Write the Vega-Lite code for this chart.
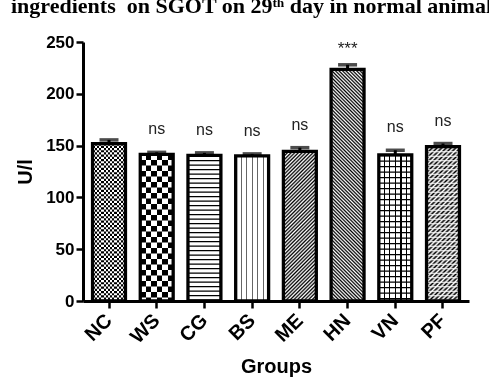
{
  "$schema": "https://vega.github.io/schema/vega-lite/v6.json",
  "width": 386,
  "height": 259,
  "autosize": "none",
  "padding": {"left": 83, "top": 42, "right": 20, "bottom": 81},
  "background": "#ffffff",
  "title": {
    "text": "ingredients\u00a0 on SGOT on 29ᵗʰ day in normal animals",
    "anchor": "start",
    "frame": "group",
    "dx": -72,
    "offset": -1.5,
    "baseline": "alphabetic",
    "font": "Liberation Serif",
    "fontSize": 22,
    "fontWeight": "bold",
    "color": "#000"
  },
  "data": {
    "values": [
      {"group": "NC", "mean": 152, "upper": 155.5, "sig": ""},
      {"group": "WS", "mean": 141.5, "upper": 143.5, "sig": "ns"},
      {"group": "CG", "mean": 140.5, "upper": 143, "sig": "ns"},
      {"group": "BS", "mean": 140, "upper": 142, "sig": "ns"},
      {"group": "ME", "mean": 144.5, "upper": 148, "sig": "ns"},
      {"group": "HN", "mean": 223.5, "upper": 228, "sig": "***"},
      {"group": "VN", "mean": 141, "upper": 145.5, "sig": "ns"},
      {"group": "PF", "mean": 149, "upper": 152, "sig": "ns"}
    ]
  },
  "encoding": {
    "x": {
      "field": "group",
      "type": "nominal",
      "title": "Groups",
      "scale": {"domain": ["NC", "WS", "CG", "BS", "ME", "HN", "VN", "PF"], "paddingInner": 0.31, "paddingOuter": 0.2},
      "axis": {"labelAngle": -45, "labelAlign": "right", "labelBaseline": "middle", "labelPadding": 9, "labelFontSize": 20, "titleFontSize": 20, "titlePadding": 10}
    }
  },
  "layer": [
    {
      "transform": [{"filter": "datum.group == 'NC'"}],
      "mark": {"type": "bar", "fill": {"gradient": "linear", "x1": 0, "y1": 0, "x2": 1, "y2": 0, "stops": [
        {"offset": 0, "color": "#000"}, {"offset": 0.0667, "color": "#000"}, {"offset": 0.0667, "color": "#fff"}, {"offset": 0.1333, "color": "#fff"},
        {"offset": 0.1333, "color": "#000"}, {"offset": 0.2, "color": "#000"}, {"offset": 0.2, "color": "#fff"}, {"offset": 0.2667, "color": "#fff"},
        {"offset": 0.2667, "color": "#000"}, {"offset": 0.3333, "color": "#000"}, {"offset": 0.3333, "color": "#fff"}, {"offset": 0.4, "color": "#fff"},
        {"offset": 0.4, "color": "#000"}, {"offset": 0.4667, "color": "#000"}, {"offset": 0.4667, "color": "#fff"}, {"offset": 0.5333, "color": "#fff"},
        {"offset": 0.5333, "color": "#000"}, {"offset": 0.6, "color": "#000"}, {"offset": 0.6, "color": "#fff"}, {"offset": 0.6667, "color": "#fff"},
        {"offset": 0.6667, "color": "#000"}, {"offset": 0.7333, "color": "#000"}, {"offset": 0.7333, "color": "#fff"}, {"offset": 0.8, "color": "#fff"},
        {"offset": 0.8, "color": "#000"}, {"offset": 0.8667, "color": "#000"}, {"offset": 0.8667, "color": "#fff"}, {"offset": 0.9333, "color": "#fff"},
        {"offset": 0.9333, "color": "#000"}, {"offset": 1, "color": "#000"}]}},
      "encoding": {"y": {"field": "mean", "type": "quantitative", "title": "U/l", "scale": {"domain": [0, 250], "nice": false}, "axis": {"values": [0, 50, 100, 150, 200, 250], "labelFontSize": 17, "labelPadding": 2, "titleFontSize": 20, "titlePadding": 10}}}
    },
    {
      "transform": [{"filter": "datum.group == 'NC'"}],
      "mark": {"type": "rule", "color": "#fff", "strokeWidth": 33, "strokeDash": [2.2, 2.2], "blend": "difference"},
      "encoding": {"y": {"field": "mean", "type": "quantitative", "title": "U/l"}, "y2": {"datum": 0}}
    },
    {
      "transform": [{"filter": "datum.group == 'WS'"}],
      "mark": {"type": "bar", "fill": {"gradient": "linear", "x1": 0, "y1": 0, "x2": 1, "y2": 0, "stops": [
        {"offset": 0, "color": "#000"}, {"offset": 0.1667, "color": "#000"}, {"offset": 0.1667, "color": "#fff"}, {"offset": 0.3333, "color": "#fff"},
        {"offset": 0.3333, "color": "#000"}, {"offset": 0.5, "color": "#000"}, {"offset": 0.5, "color": "#fff"}, {"offset": 0.6667, "color": "#fff"},
        {"offset": 0.6667, "color": "#000"}, {"offset": 0.8333, "color": "#000"}, {"offset": 0.8333, "color": "#fff"}, {"offset": 1, "color": "#fff"}]}},
      "encoding": {"y": {"field": "mean", "type": "quantitative", "title": "U/l"}}
    },
    {
      "transform": [{"filter": "datum.group == 'WS'"}],
      "mark": {"type": "rule", "color": "#fff", "strokeWidth": 33, "strokeDash": [5.5, 5.5], "blend": "difference"},
      "encoding": {"y": {"field": "mean", "type": "quantitative", "title": "U/l"}, "y2": {"datum": 0}}
    },
    {
      "transform": [{"filter": "datum.group == 'CG'"}],
      "mark": {"type": "rule", "color": "#000", "strokeWidth": 33, "strokeDash": [1.4, 3.1]},
      "encoding": {"y": {"field": "mean", "type": "quantitative", "title": "U/l"}, "y2": {"datum": 0}}
    },
    {
      "transform": [{"filter": "datum.group == 'BS'"}],
      "mark": {"type": "bar", "fill": {"gradient": "linear", "x1": 0, "y1": 0, "x2": 1, "y2": 0, "stops": [
        {"offset": 0, "color": "#fff"}, {"offset": 0.149, "color": "#fff"}, {"offset": 0.149, "color": "#666"}, {"offset": 0.185, "color": "#666"}, {"offset": 0.185, "color": "#fff"},
        {"offset": 0.316, "color": "#fff"}, {"offset": 0.316, "color": "#666"}, {"offset": 0.352, "color": "#666"}, {"offset": 0.352, "color": "#fff"},
        {"offset": 0.484, "color": "#fff"}, {"offset": 0.484, "color": "#666"}, {"offset": 0.52, "color": "#666"}, {"offset": 0.52, "color": "#fff"},
        {"offset": 0.651, "color": "#fff"}, {"offset": 0.651, "color": "#666"}, {"offset": 0.687, "color": "#666"}, {"offset": 0.687, "color": "#fff"},
        {"offset": 0.818, "color": "#fff"}, {"offset": 0.818, "color": "#666"}, {"offset": 0.854, "color": "#666"}, {"offset": 0.854, "color": "#fff"},
        {"offset": 1, "color": "#fff"}]}},
      "encoding": {"y": {"field": "mean", "type": "quantitative", "title": "U/l"}}
    },
    {
      "transform": [{"filter": "datum.group == 'ME'"}],
      "mark": {"type": "bar", "fill": {"gradient": "linear", "x1": 0, "y1": 0, "x2": 0.2559, "y2": 1.1636, "stops": [
        {"offset": 0, "color": "#fff"}, {"offset": 0.01, "color": "#000"}, {"offset": 0.02, "color": "#fff"}, {"offset": 0.03, "color": "#000"}, {"offset": 0.04, "color": "#fff"},
        {"offset": 0.05, "color": "#000"}, {"offset": 0.06, "color": "#fff"}, {"offset": 0.07, "color": "#000"}, {"offset": 0.08, "color": "#fff"}, {"offset": 0.09, "color": "#000"},
        {"offset": 0.1, "color": "#fff"}, {"offset": 0.11, "color": "#000"}, {"offset": 0.12, "color": "#fff"}, {"offset": 0.13, "color": "#000"}, {"offset": 0.14, "color": "#fff"},
        {"offset": 0.15, "color": "#000"}, {"offset": 0.16, "color": "#fff"}, {"offset": 0.17, "color": "#000"}, {"offset": 0.18, "color": "#fff"}, {"offset": 0.19, "color": "#000"},
        {"offset": 0.2, "color": "#fff"}, {"offset": 0.21, "color": "#000"}, {"offset": 0.22, "color": "#fff"}, {"offset": 0.23, "color": "#000"}, {"offset": 0.24, "color": "#fff"},
        {"offset": 0.25, "color": "#000"}, {"offset": 0.26, "color": "#fff"}, {"offset": 0.27, "color": "#000"}, {"offset": 0.28, "color": "#fff"}, {"offset": 0.29, "color": "#000"},
        {"offset": 0.3, "color": "#fff"}, {"offset": 0.31, "color": "#000"}, {"offset": 0.32, "color": "#fff"}, {"offset": 0.33, "color": "#000"}, {"offset": 0.34, "color": "#fff"},
        {"offset": 0.35, "color": "#000"}, {"offset": 0.36, "color": "#fff"}, {"offset": 0.37, "color": "#000"}, {"offset": 0.38, "color": "#fff"}, {"offset": 0.39, "color": "#000"},
        {"offset": 0.4, "color": "#fff"}, {"offset": 0.41, "color": "#000"}, {"offset": 0.42, "color": "#fff"}, {"offset": 0.43, "color": "#000"}, {"offset": 0.44, "color": "#fff"},
        {"offset": 0.45, "color": "#000"}, {"offset": 0.46, "color": "#fff"}, {"offset": 0.47, "color": "#000"}, {"offset": 0.48, "color": "#fff"}, {"offset": 0.49, "color": "#000"},
        {"offset": 0.5, "color": "#fff"}, {"offset": 0.51, "color": "#000"}, {"offset": 0.52, "color": "#fff"}, {"offset": 0.53, "color": "#000"}, {"offset": 0.54, "color": "#fff"},
        {"offset": 0.55, "color": "#000"}, {"offset": 0.56, "color": "#fff"}, {"offset": 0.57, "color": "#000"}, {"offset": 0.58, "color": "#fff"}, {"offset": 0.59, "color": "#000"},
        {"offset": 0.6, "color": "#fff"}, {"offset": 0.61, "color": "#000"}, {"offset": 0.62, "color": "#fff"}, {"offset": 0.63, "color": "#000"}, {"offset": 0.64, "color": "#fff"},
        {"offset": 0.65, "color": "#000"}, {"offset": 0.66, "color": "#fff"}, {"offset": 0.67, "color": "#000"}, {"offset": 0.68, "color": "#fff"}, {"offset": 0.69, "color": "#000"},
        {"offset": 0.7, "color": "#fff"}, {"offset": 0.71, "color": "#000"}, {"offset": 0.72, "color": "#fff"}, {"offset": 0.73, "color": "#000"}, {"offset": 0.74, "color": "#fff"},
        {"offset": 0.75, "color": "#000"}, {"offset": 0.76, "color": "#fff"}, {"offset": 0.77, "color": "#000"}, {"offset": 0.78, "color": "#fff"}, {"offset": 0.79, "color": "#000"},
        {"offset": 0.8, "color": "#fff"}, {"offset": 0.81, "color": "#000"}, {"offset": 0.82, "color": "#fff"}, {"offset": 0.83, "color": "#000"}, {"offset": 0.84, "color": "#fff"},
        {"offset": 0.85, "color": "#000"}, {"offset": 0.86, "color": "#fff"}, {"offset": 0.87, "color": "#000"}, {"offset": 0.88, "color": "#fff"}, {"offset": 0.89, "color": "#000"},
        {"offset": 0.9, "color": "#fff"}, {"offset": 0.91, "color": "#000"}, {"offset": 0.92, "color": "#fff"}, {"offset": 0.93, "color": "#000"}, {"offset": 0.94, "color": "#fff"},
        {"offset": 0.95, "color": "#000"}, {"offset": 0.96, "color": "#fff"}, {"offset": 0.97, "color": "#000"}, {"offset": 0.98, "color": "#fff"}, {"offset": 0.99, "color": "#000"},
        {"offset": 1, "color": "#fff"}]}},
      "encoding": {"y": {"field": "mean", "type": "quantitative", "title": "U/l"}}
    },
    {
      "transform": [{"filter": "datum.group == 'HN'"}],
      "mark": {"type": "bar", "fill": {"gradient": "linear", "x1": 0, "y1": 1, "x2": 0.1592, "y2": -0.1196, "stops": [
        {"offset": 0, "color": "#fff"}, {"offset": 0.0067, "color": "#000"}, {"offset": 0.0133, "color": "#fff"}, {"offset": 0.02, "color": "#000"}, {"offset": 0.0267, "color": "#fff"},
        {"offset": 0.0333, "color": "#000"}, {"offset": 0.04, "color": "#fff"}, {"offset": 0.0467, "color": "#000"}, {"offset": 0.0533, "color": "#fff"}, {"offset": 0.06, "color": "#000"},
        {"offset": 0.0667, "color": "#fff"}, {"offset": 0.0733, "color": "#000"}, {"offset": 0.08, "color": "#fff"}, {"offset": 0.0867, "color": "#000"}, {"offset": 0.0933, "color": "#fff"},
        {"offset": 0.1, "color": "#000"}, {"offset": 0.1067, "color": "#fff"}, {"offset": 0.1133, "color": "#000"}, {"offset": 0.12, "color": "#fff"}, {"offset": 0.1267, "color": "#000"},
        {"offset": 0.1333, "color": "#fff"}, {"offset": 0.14, "color": "#000"}, {"offset": 0.1467, "color": "#fff"}, {"offset": 0.1533, "color": "#000"}, {"offset": 0.16, "color": "#fff"},
        {"offset": 0.1667, "color": "#000"}, {"offset": 0.1733, "color": "#fff"}, {"offset": 0.18, "color": "#000"}, {"offset": 0.1867, "color": "#fff"}, {"offset": 0.1933, "color": "#000"},
        {"offset": 0.2, "color": "#fff"}, {"offset": 0.2067, "color": "#000"}, {"offset": 0.2133, "color": "#fff"}, {"offset": 0.22, "color": "#000"}, {"offset": 0.2267, "color": "#fff"},
        {"offset": 0.2333, "color": "#000"}, {"offset": 0.24, "color": "#fff"}, {"offset": 0.2467, "color": "#000"}, {"offset": 0.2533, "color": "#fff"}, {"offset": 0.26, "color": "#000"},
        {"offset": 0.2667, "color": "#fff"}, {"offset": 0.2733, "color": "#000"}, {"offset": 0.28, "color": "#fff"}, {"offset": 0.2867, "color": "#000"}, {"offset": 0.2933, "color": "#fff"},
        {"offset": 0.3, "color": "#000"}, {"offset": 0.3067, "color": "#fff"}, {"offset": 0.3133, "color": "#000"}, {"offset": 0.32, "color": "#fff"}, {"offset": 0.3267, "color": "#000"},
        {"offset": 0.3333, "color": "#fff"}, {"offset": 0.34, "color": "#000"}, {"offset": 0.3467, "color": "#fff"}, {"offset": 0.3533, "color": "#000"}, {"offset": 0.36, "color": "#fff"},
        {"offset": 0.3667, "color": "#000"}, {"offset": 0.3733, "color": "#fff"}, {"offset": 0.38, "color": "#000"}, {"offset": 0.3867, "color": "#fff"}, {"offset": 0.3933, "color": "#000"},
        {"offset": 0.4, "color": "#fff"}, {"offset": 0.4067, "color": "#000"}, {"offset": 0.4133, "color": "#fff"}, {"offset": 0.42, "color": "#000"}, {"offset": 0.4267, "color": "#fff"},
        {"offset": 0.4333, "color": "#000"}, {"offset": 0.44, "color": "#fff"}, {"offset": 0.4467, "color": "#000"}, {"offset": 0.4533, "color": "#fff"}, {"offset": 0.46, "color": "#000"},
        {"offset": 0.4667, "color": "#fff"}, {"offset": 0.4733, "color": "#000"}, {"offset": 0.48, "color": "#fff"}, {"offset": 0.4867, "color": "#000"}, {"offset": 0.4933, "color": "#fff"},
        {"offset": 0.5, "color": "#000"}, {"offset": 0.5067, "color": "#fff"}, {"offset": 0.5133, "color": "#000"}, {"offset": 0.52, "color": "#fff"}, {"offset": 0.5267, "color": "#000"},
        {"offset": 0.5333, "color": "#fff"}, {"offset": 0.54, "color": "#000"}, {"offset": 0.5467, "color": "#fff"}, {"offset": 0.5533, "color": "#000"}, {"offset": 0.56, "color": "#fff"},
        {"offset": 0.5667, "color": "#000"}, {"offset": 0.5733, "color": "#fff"}, {"offset": 0.58, "color": "#000"}, {"offset": 0.5867, "color": "#fff"}, {"offset": 0.5933, "color": "#000"},
        {"offset": 0.6, "color": "#fff"}, {"offset": 0.6067, "color": "#000"}, {"offset": 0.6133, "color": "#fff"}, {"offset": 0.62, "color": "#000"}, {"offset": 0.6267, "color": "#fff"},
        {"offset": 0.6333, "color": "#000"}, {"offset": 0.64, "color": "#fff"}, {"offset": 0.6467, "color": "#000"}, {"offset": 0.6533, "color": "#fff"}, {"offset": 0.66, "color": "#000"},
        {"offset": 0.6667, "color": "#fff"}, {"offset": 0.6733, "color": "#000"}, {"offset": 0.68, "color": "#fff"}, {"offset": 0.6867, "color": "#000"}, {"offset": 0.6933, "color": "#fff"},
        {"offset": 0.7, "color": "#000"}, {"offset": 0.7067, "color": "#fff"}, {"offset": 0.7133, "color": "#000"}, {"offset": 0.72, "color": "#fff"}, {"offset": 0.7267, "color": "#000"},
        {"offset": 0.7333, "color": "#fff"}, {"offset": 0.74, "color": "#000"}, {"offset": 0.7467, "color": "#fff"}, {"offset": 0.7533, "color": "#000"}, {"offset": 0.76, "color": "#fff"},
        {"offset": 0.7667, "color": "#000"}, {"offset": 0.7733, "color": "#fff"}, {"offset": 0.78, "color": "#000"}, {"offset": 0.7867, "color": "#fff"}, {"offset": 0.7933, "color": "#000"},
        {"offset": 0.8, "color": "#fff"}, {"offset": 0.8067, "color": "#000"}, {"offset": 0.8133, "color": "#fff"}, {"offset": 0.82, "color": "#000"}, {"offset": 0.8267, "color": "#fff"},
        {"offset": 0.8333, "color": "#000"}, {"offset": 0.84, "color": "#fff"}, {"offset": 0.8467, "color": "#000"}, {"offset": 0.8533, "color": "#fff"}, {"offset": 0.86, "color": "#000"},
        {"offset": 0.8667, "color": "#fff"}, {"offset": 0.8733, "color": "#000"}, {"offset": 0.88, "color": "#fff"}, {"offset": 0.8867, "color": "#000"}, {"offset": 0.8933, "color": "#fff"},
        {"offset": 0.9, "color": "#000"}, {"offset": 0.9067, "color": "#fff"}, {"offset": 0.9133, "color": "#000"}, {"offset": 0.92, "color": "#fff"}, {"offset": 0.9267, "color": "#000"},
        {"offset": 0.9333, "color": "#fff"}, {"offset": 0.94, "color": "#000"}, {"offset": 0.9467, "color": "#fff"}, {"offset": 0.9533, "color": "#000"}, {"offset": 0.96, "color": "#fff"},
        {"offset": 0.9667, "color": "#000"}, {"offset": 0.9733, "color": "#fff"}, {"offset": 0.98, "color": "#000"}, {"offset": 0.9867, "color": "#fff"}, {"offset": 0.9933, "color": "#000"},
        {"offset": 1, "color": "#fff"}]}},
      "encoding": {"y": {"field": "mean", "type": "quantitative", "title": "U/l"}}
    },
    {
      "transform": [{"filter": "datum.group == 'VN'"}],
      "mark": {"type": "bar", "fill": {"gradient": "linear", "x1": 0, "y1": 0, "x2": 1, "y2": 0, "stops": [
        {"offset": 0, "color": "#fff"}, {"offset": 0.147, "color": "#fff"}, {"offset": 0.147, "color": "#000"}, {"offset": 0.187, "color": "#000"}, {"offset": 0.187, "color": "#fff"},
        {"offset": 0.314, "color": "#fff"}, {"offset": 0.314, "color": "#000"}, {"offset": 0.354, "color": "#000"}, {"offset": 0.354, "color": "#fff"},
        {"offset": 0.482, "color": "#fff"}, {"offset": 0.482, "color": "#000"}, {"offset": 0.522, "color": "#000"}, {"offset": 0.522, "color": "#fff"},
        {"offset": 0.649, "color": "#fff"}, {"offset": 0.649, "color": "#000"}, {"offset": 0.689, "color": "#000"}, {"offset": 0.689, "color": "#fff"},
        {"offset": 0.816, "color": "#fff"}, {"offset": 0.816, "color": "#000"}, {"offset": 0.856, "color": "#000"}, {"offset": 0.856, "color": "#fff"},
        {"offset": 1, "color": "#fff"}]}},
      "encoding": {"y": {"field": "mean", "type": "quantitative", "title": "U/l"}}
    },
    {
      "transform": [{"filter": "datum.group == 'VN'"}],
      "mark": {"type": "rule", "color": "#000", "strokeWidth": 33, "strokeDash": [1.3, 4.2]},
      "encoding": {"y": {"field": "mean", "type": "quantitative", "title": "U/l"}, "y2": {"datum": 0}}
    },
    {
      "transform": [{"filter": "datum.group == 'PF'"}],
      "mark": {"type": "bar", "fill": {"gradient": "linear", "x1": 0, "y1": 0, "x2": 0.2475, "y2": 1.1605, "stops": [
        {"offset": 0, "color": "#fff"}, {"offset": 0.0125, "color": "#000"}, {"offset": 0.025, "color": "#fff"}, {"offset": 0.0375, "color": "#000"}, {"offset": 0.05, "color": "#fff"},
        {"offset": 0.0625, "color": "#000"}, {"offset": 0.075, "color": "#fff"}, {"offset": 0.0875, "color": "#000"}, {"offset": 0.1, "color": "#fff"}, {"offset": 0.1125, "color": "#000"},
        {"offset": 0.125, "color": "#fff"}, {"offset": 0.1375, "color": "#000"}, {"offset": 0.15, "color": "#fff"}, {"offset": 0.1625, "color": "#000"}, {"offset": 0.175, "color": "#fff"},
        {"offset": 0.1875, "color": "#000"}, {"offset": 0.2, "color": "#fff"}, {"offset": 0.2125, "color": "#000"}, {"offset": 0.225, "color": "#fff"}, {"offset": 0.2375, "color": "#000"},
        {"offset": 0.25, "color": "#fff"}, {"offset": 0.2625, "color": "#000"}, {"offset": 0.275, "color": "#fff"}, {"offset": 0.2875, "color": "#000"}, {"offset": 0.3, "color": "#fff"},
        {"offset": 0.3125, "color": "#000"}, {"offset": 0.325, "color": "#fff"}, {"offset": 0.3375, "color": "#000"}, {"offset": 0.35, "color": "#fff"}, {"offset": 0.3625, "color": "#000"},
        {"offset": 0.375, "color": "#fff"}, {"offset": 0.3875, "color": "#000"}, {"offset": 0.4, "color": "#fff"}, {"offset": 0.4125, "color": "#000"}, {"offset": 0.425, "color": "#fff"},
        {"offset": 0.4375, "color": "#000"}, {"offset": 0.45, "color": "#fff"}, {"offset": 0.4625, "color": "#000"}, {"offset": 0.475, "color": "#fff"}, {"offset": 0.4875, "color": "#000"},
        {"offset": 0.5, "color": "#fff"}, {"offset": 0.5125, "color": "#000"}, {"offset": 0.525, "color": "#fff"}, {"offset": 0.5375, "color": "#000"}, {"offset": 0.55, "color": "#fff"},
        {"offset": 0.5625, "color": "#000"}, {"offset": 0.575, "color": "#fff"}, {"offset": 0.5875, "color": "#000"}, {"offset": 0.6, "color": "#fff"}, {"offset": 0.6125, "color": "#000"},
        {"offset": 0.625, "color": "#fff"}, {"offset": 0.6375, "color": "#000"}, {"offset": 0.65, "color": "#fff"}, {"offset": 0.6625, "color": "#000"}, {"offset": 0.675, "color": "#fff"},
        {"offset": 0.6875, "color": "#000"}, {"offset": 0.7, "color": "#fff"}, {"offset": 0.7125, "color": "#000"}, {"offset": 0.725, "color": "#fff"}, {"offset": 0.7375, "color": "#000"},
        {"offset": 0.75, "color": "#fff"}, {"offset": 0.7625, "color": "#000"}, {"offset": 0.775, "color": "#fff"}, {"offset": 0.7875, "color": "#000"}, {"offset": 0.8, "color": "#fff"},
        {"offset": 0.8125, "color": "#000"}, {"offset": 0.825, "color": "#fff"}, {"offset": 0.8375, "color": "#000"}, {"offset": 0.85, "color": "#fff"}, {"offset": 0.8625, "color": "#000"},
        {"offset": 0.875, "color": "#fff"}, {"offset": 0.8875, "color": "#000"}, {"offset": 0.9, "color": "#fff"}, {"offset": 0.9125, "color": "#000"}, {"offset": 0.925, "color": "#fff"},
        {"offset": 0.9375, "color": "#000"}, {"offset": 0.95, "color": "#fff"}, {"offset": 0.9625, "color": "#000"}, {"offset": 0.975, "color": "#fff"}, {"offset": 0.9875, "color": "#000"},
        {"offset": 1, "color": "#fff"}]}},
      "encoding": {"y": {"field": "mean", "type": "quantitative", "title": "U/l"}}
    },
    {
      "transform": [{"filter": "datum.group == 'PF'"}],
      "mark": {"type": "rule", "color": "#fff", "strokeWidth": 33, "strokeDash": [1.2, 3.3]},
      "encoding": {"y": {"field": "mean", "type": "quantitative", "title": "U/l"}, "y2": {"datum": 0}}
    },
    {
      "mark": {"type": "bar", "filled": false, "stroke": "#000", "strokeWidth": 3.3},
      "encoding": {"y": {"field": "mean", "type": "quantitative", "title": "U/l"}}
    },
    {
      "mark": {"type": "rule", "color": "#000", "strokeWidth": 3},
      "encoding": {"y": {"field": "mean", "type": "quantitative", "title": "U/l"}, "y2": {"field": "upper"}}
    },
    {
      "mark": {"type": "tick", "color": "#000", "thickness": 3.5, "size": 19},
      "encoding": {"y": {"field": "upper", "type": "quantitative", "title": "U/l"}}
    },
    {
      "transform": [{"filter": "datum.sig == 'ns'"}],
      "mark": {"type": "text", "baseline": "alphabetic", "dy": -18, "font": "Liberation Sans", "fontSize": 16, "color": "#222"},
      "encoding": {"y": {"field": "upper", "type": "quantitative", "title": "U/l"}, "text": {"field": "sig"}}
    },
    {
      "transform": [{"filter": "datum.sig == '***'"}],
      "mark": {"type": "text", "baseline": "alphabetic", "dy": -11, "font": "Liberation Sans", "fontSize": 17, "color": "#222"},
      "encoding": {"y": {"field": "upper", "type": "quantitative", "title": "U/l"}, "text": {"field": "sig"}}
    }
  ],
  "config": {
    "view": {"stroke": null},
    "axis": {
      "grid": false,
      "domainColor": "#000",
      "domainWidth": 3,
      "tickColor": "#000",
      "tickWidth": 2.5,
      "tickSize": 7,
      "labelFont": "Liberation Sans",
      "labelFontWeight": "bold",
      "labelColor": "#000",
      "titleFont": "Liberation Sans",
      "titleFontWeight": "bold",
      "titleColor": "#000"
    }
  }
}
